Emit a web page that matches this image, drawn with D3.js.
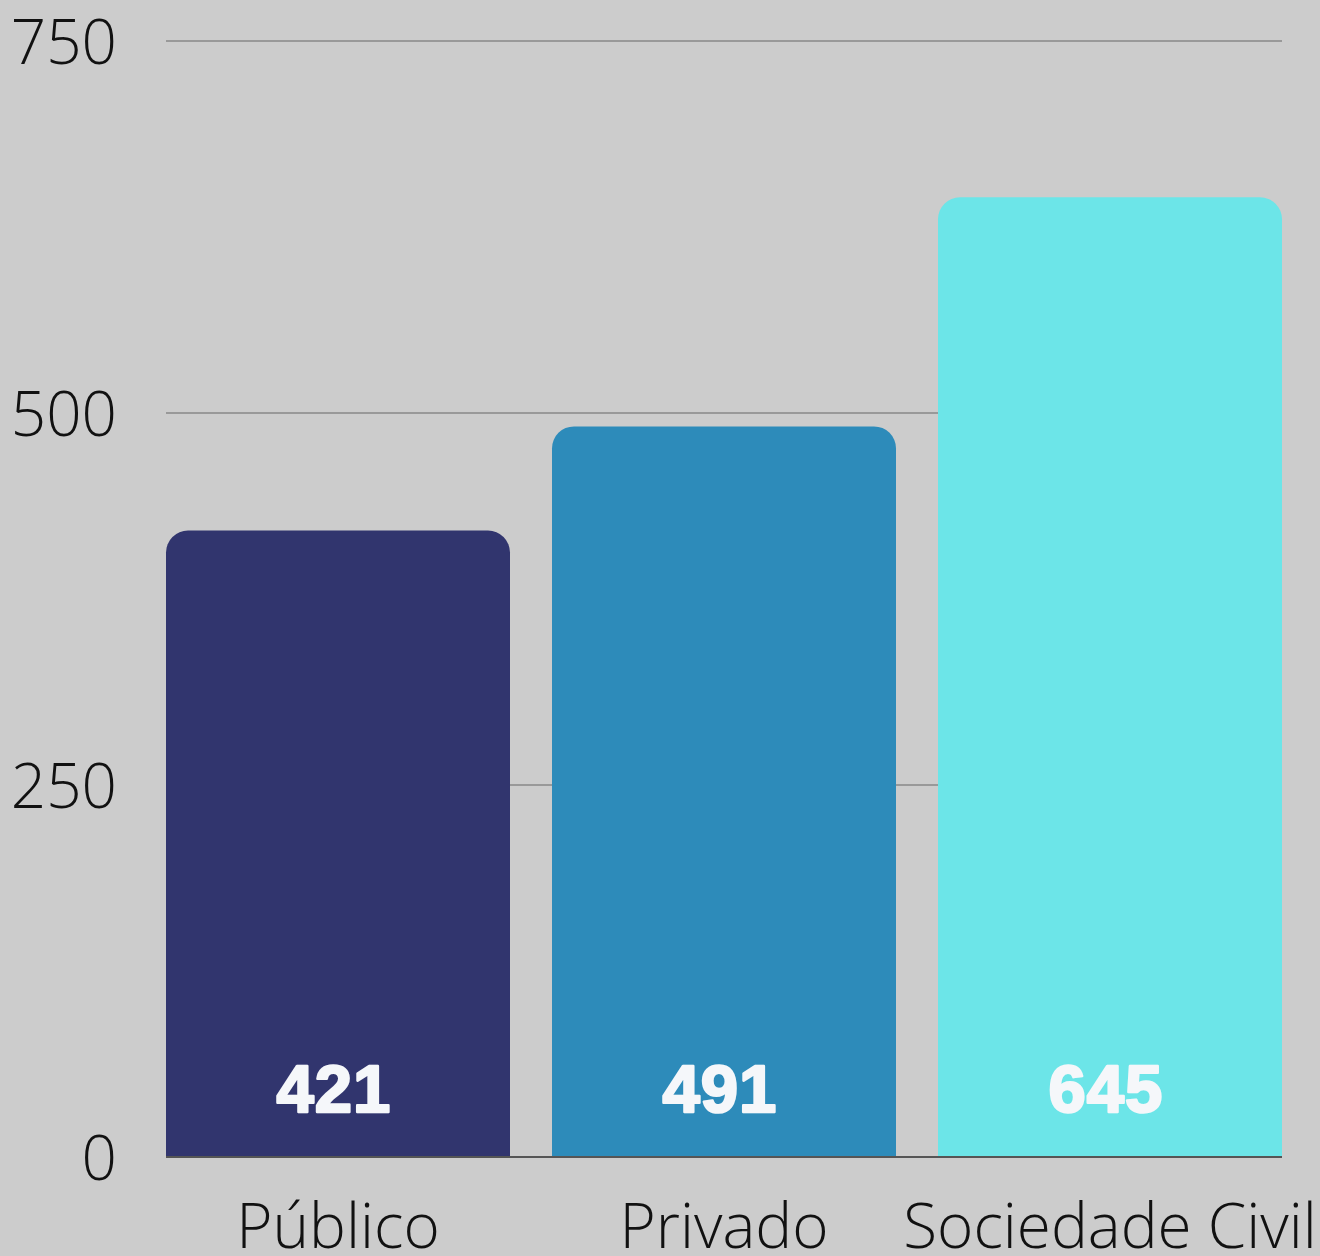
<!DOCTYPE html>
<html><head><meta charset="utf-8">
<script src="https://cdn.jsdelivr.net/npm/d3@7"></script>
<style>html,body{margin:0;padding:0;background:#cccccc;}svg{display:block;}</style>
</head><body>
<svg id="chart" width="1320" height="1256"></svg>
<script>
const categories = ["Público", "Privado", "Sociedade Civil"];
const values = [421, 491, 645];
const colors = ["#31356e", "#2d8bba", "#6ce5e8"];
const tickValues = [0, 250, 500, 750];

const svg = d3.select("#chart");
svg.append("rect").attr("width",1320).attr("height",1256).attr("fill","#cccccc");

const x = d3.scaleBand().domain(categories).range([166, 1282]).paddingInner(42/386).paddingOuter(0);
const y = d3.scaleLinear().domain([0, 750]).range([1157, 41]);

// gridlines
svg.append("g").selectAll("line").data(tickValues.filter(d=>d>0)).join("line")
  .attr("x1",166).attr("x2",1282)
  .attr("y1",d=>y(d)).attr("y2",d=>y(d))
  .attr("stroke","#999999").attr("stroke-width",2);

// y tick labels
svg.append("g").selectAll("text").data(tickValues).join("text")
  .attr("x",117).attr("y",d=>y(d)+23)
  .attr("text-anchor","end")
  .attr("font-family","'Open Sans', sans-serif").attr("font-weight",300)
  .attr("font-size",62).attr("fill","#111")
  .text(d=>d);

// bars with rounded top corners
const r = 22;
function barPath(x0, w, yTop, yBase){
  return `M${x0},${yBase} L${x0},${yTop+r} A${r},${r} 0 0 1 ${x0+r},${yTop} L${x0+w-r},${yTop} A${r},${r} 0 0 1 ${x0+w},${yTop+r} L${x0+w},${yBase} Z`;
}
svg.append("g").selectAll("path").data(values).join("path")
  .attr("d",(d,i)=>barPath(x(categories[i]), x.bandwidth(), y(d), y(0)))
  .attr("fill",(d,i)=>colors[i]);

// baseline
svg.append("line").attr("x1",166).attr("x2",1282).attr("y1",y(0)).attr("y2",y(0))
  .attr("stroke","#555555").attr("stroke-width",2);

// value labels
svg.append("g").selectAll("text").data(values).join("text")
  .attr("x",(d,i)=>x(categories[i])+x.bandwidth()/2 - 4)
  .attr("y",1112)
  .attr("text-anchor","middle")
  .attr("font-family","'Liberation Sans', Arial, sans-serif").attr("font-weight",700)
  .attr("font-size",67).attr("fill","#f5f7fa")
  .attr("stroke","#f5f7fa").attr("stroke-width",2.5).attr("stroke-linejoin","round")
  .attr("letter-spacing",1)
  .text(d=>d);

// category labels
svg.append("g").selectAll("text").data(categories).join("text")
  .attr("x",d=>x(d)+x.bandwidth()/2)
  .attr("y",1248)
  .attr("text-anchor","middle")
  .attr("font-family","'Open Sans', sans-serif").attr("font-weight",300)
  .attr("font-size",62).attr("fill","#111")
  .text(d=>d);
</script>
</body></html>
